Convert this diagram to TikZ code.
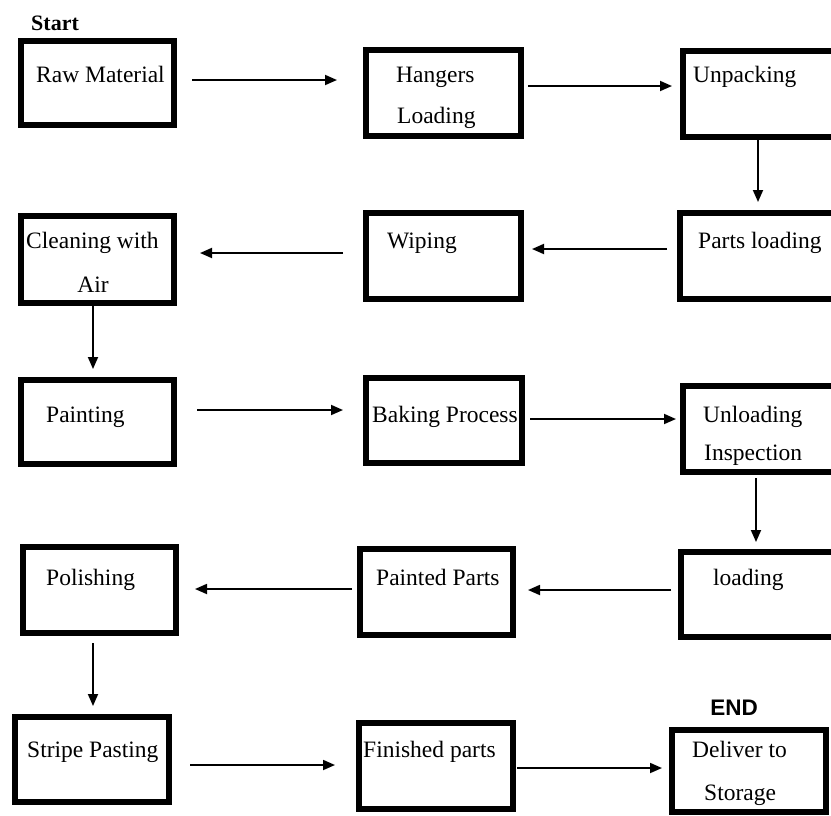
\documentclass[tikz,border=0pt]{standalone}
\usepackage{fontspec}
\setmainfont{Liberation Serif}
\newfontfamily\sansbold{Liberation Sans}
\usetikzlibrary{arrows.meta}
\begin{document}
\begin{tikzpicture}[x=1pt,y=-1pt,
  box/.style={draw=black,line width=6pt,rectangle,inner sep=0pt,outer sep=3pt},
  lbl/.style={anchor=base west,inner sep=0pt,font=\fontsize{23.5}{28}\selectfont},
  arr/.style={draw=black,line width=1.8pt,-{Triangle[length=12pt,width=10pt]}}]
\useasboundingbox (0,0) rectangle (831,815);
\clip (0,0) rectangle (831,815);
% boxes (outer extents in pixels)
\node[box,minimum width=153pt,minimum height=84pt] (raw) at (97.5,83) {};
\node[box,minimum width=155pt,minimum height=86pt] (hang) at (443.5,93) {};
\node[box,minimum width=160pt,minimum height=86pt] (unpack) at (763,94) {};
\node[box,minimum width=154pt,minimum height=86pt] (parts) at (757,256) {};
\node[box,minimum width=155pt,minimum height=86pt] (wiping) at (443.5,256) {};
\node[box,minimum width=153pt,minimum height=87pt] (clean) at (97.5,259.5) {};
\node[box,minimum width=153pt,minimum height=84pt] (paint) at (97.5,422) {};
\node[box,minimum width=156pt,minimum height=85pt] (bake) at (444,420.5) {};
\node[box,minimum width=160pt,minimum height=86pt] (unload) at (763,429) {};
\node[box,minimum width=153pt,minimum height=85pt] (load) at (757.5,594.5) {};
\node[box,minimum width=153pt,minimum height=86pt] (painted) at (436.5,592) {};
\node[box,minimum width=153pt,minimum height=86pt] (polish) at (99.5,590) {};
\node[box,minimum width=154pt,minimum height=85pt] (stripe) at (92,759.5) {};
\node[box,minimum width=154pt,minimum height=86pt] (finished) at (436,766) {};
\node[box,minimum width=154pt,minimum height=82pt] (deliver) at (749,771) {};
% texts
\node[anchor=base west,inner sep=0pt,font=\fontsize{22}{26}\selectfont\bfseries] (start) at (31,30) {Start};
\node[anchor=base,inner sep=0pt,font=\sansbold\fontsize{22.5}{26}\selectfont\bfseries] (endlbl) at (734,715) {END};
\node[lbl] (traw) at (36,82) {Raw Material};
\node[lbl] (thang1) at (396,82) {Hangers};
\node[lbl] (thang2) at (397,123) {Loading};
\node[lbl] (tunpack) at (693,82) {Unpacking};
\node[lbl] (tparts) at (698,248) {Parts loading};
\node[lbl] (twiping) at (387,248) {Wiping};
\node[lbl] (tclean1) at (26,248) {Cleaning with};
\node[lbl,anchor=base] (tclean2) at (93,292) {Air};
\node[lbl] (tpaint) at (46,422) {Painting};
\node[lbl] (tbake) at (372,422) {Baking Process};
\node[lbl] (tunload1) at (703,422) {Unloading};
\node[lbl] (tunload2) at (704,460) {Inspection};
\node[lbl] (tload) at (713,585) {loading};
\node[lbl] (tpainted) at (376,585) {Painted Parts};
\node[lbl] (tpolish) at (46,585) {Polishing};
\node[lbl] (tstripe) at (27,757) {Stripe Pasting};
\node[lbl] (tfinished) at (363,757) {Finished parts};
\node[lbl] (tdeliver) at (692,757) {Deliver to};
\node[lbl] (tstorage) at (704,800) {Storage};
% connectors
\draw[arr,shorten <=15pt,shorten >=26pt] (raw.east |- 0,80) -- (hang.west |- 0,80);
\draw[arr,shorten <=4pt,shorten >=8pt] (hang.east |- 0,86) -- (unpack.west |- 0,86);
\draw[arr,shorten >=8pt] (unpack.south -| 758,0) -- (parts.north -| 758,0);
\draw[arr,shorten <=10pt,shorten >=8pt] (parts.west |- 0,249) -- (wiping.east |- 0,249);
\draw[arr,shorten <=20pt,shorten >=23pt] (wiping.west |- 0,253) -- (clean.east |- 0,253);
\draw[arr,shorten >=8pt] (clean.south -| 93,0) -- (paint.north -| 93,0);
\draw[arr,shorten <=20pt,shorten >=20pt] (paint.east |- 0,410) -- (bake.west |- 0,410);
\draw[arr,shorten <=5pt,shorten >=4pt] (bake.east |- 0,419) -- (unload.west |- 0,419);
\draw[arr,shorten <=3pt,shorten >=7pt] (unload.south -| 756,0) -- (load.north -| 756,0);
\draw[arr,shorten <=7pt,shorten >=12pt] (load.west |- 0,590) -- (painted.east |- 0,590);
\draw[arr,shorten <=5pt,shorten >=16pt] (painted.west |- 0,589) -- (polish.east |- 0,589);
\draw[arr,shorten <=7pt,shorten >=8pt] (polish.south -| 93,0) -- (stripe.north -| 93,0);
\draw[arr,shorten <=18pt,shorten >=21pt] (stripe.east |- 0,765) -- (finished.west |- 0,765);
\draw[arr,shorten <=1pt,shorten >=7pt] (finished.east |- 0,768) -- (deliver.west |- 0,768);
\end{tikzpicture}
\end{document}
